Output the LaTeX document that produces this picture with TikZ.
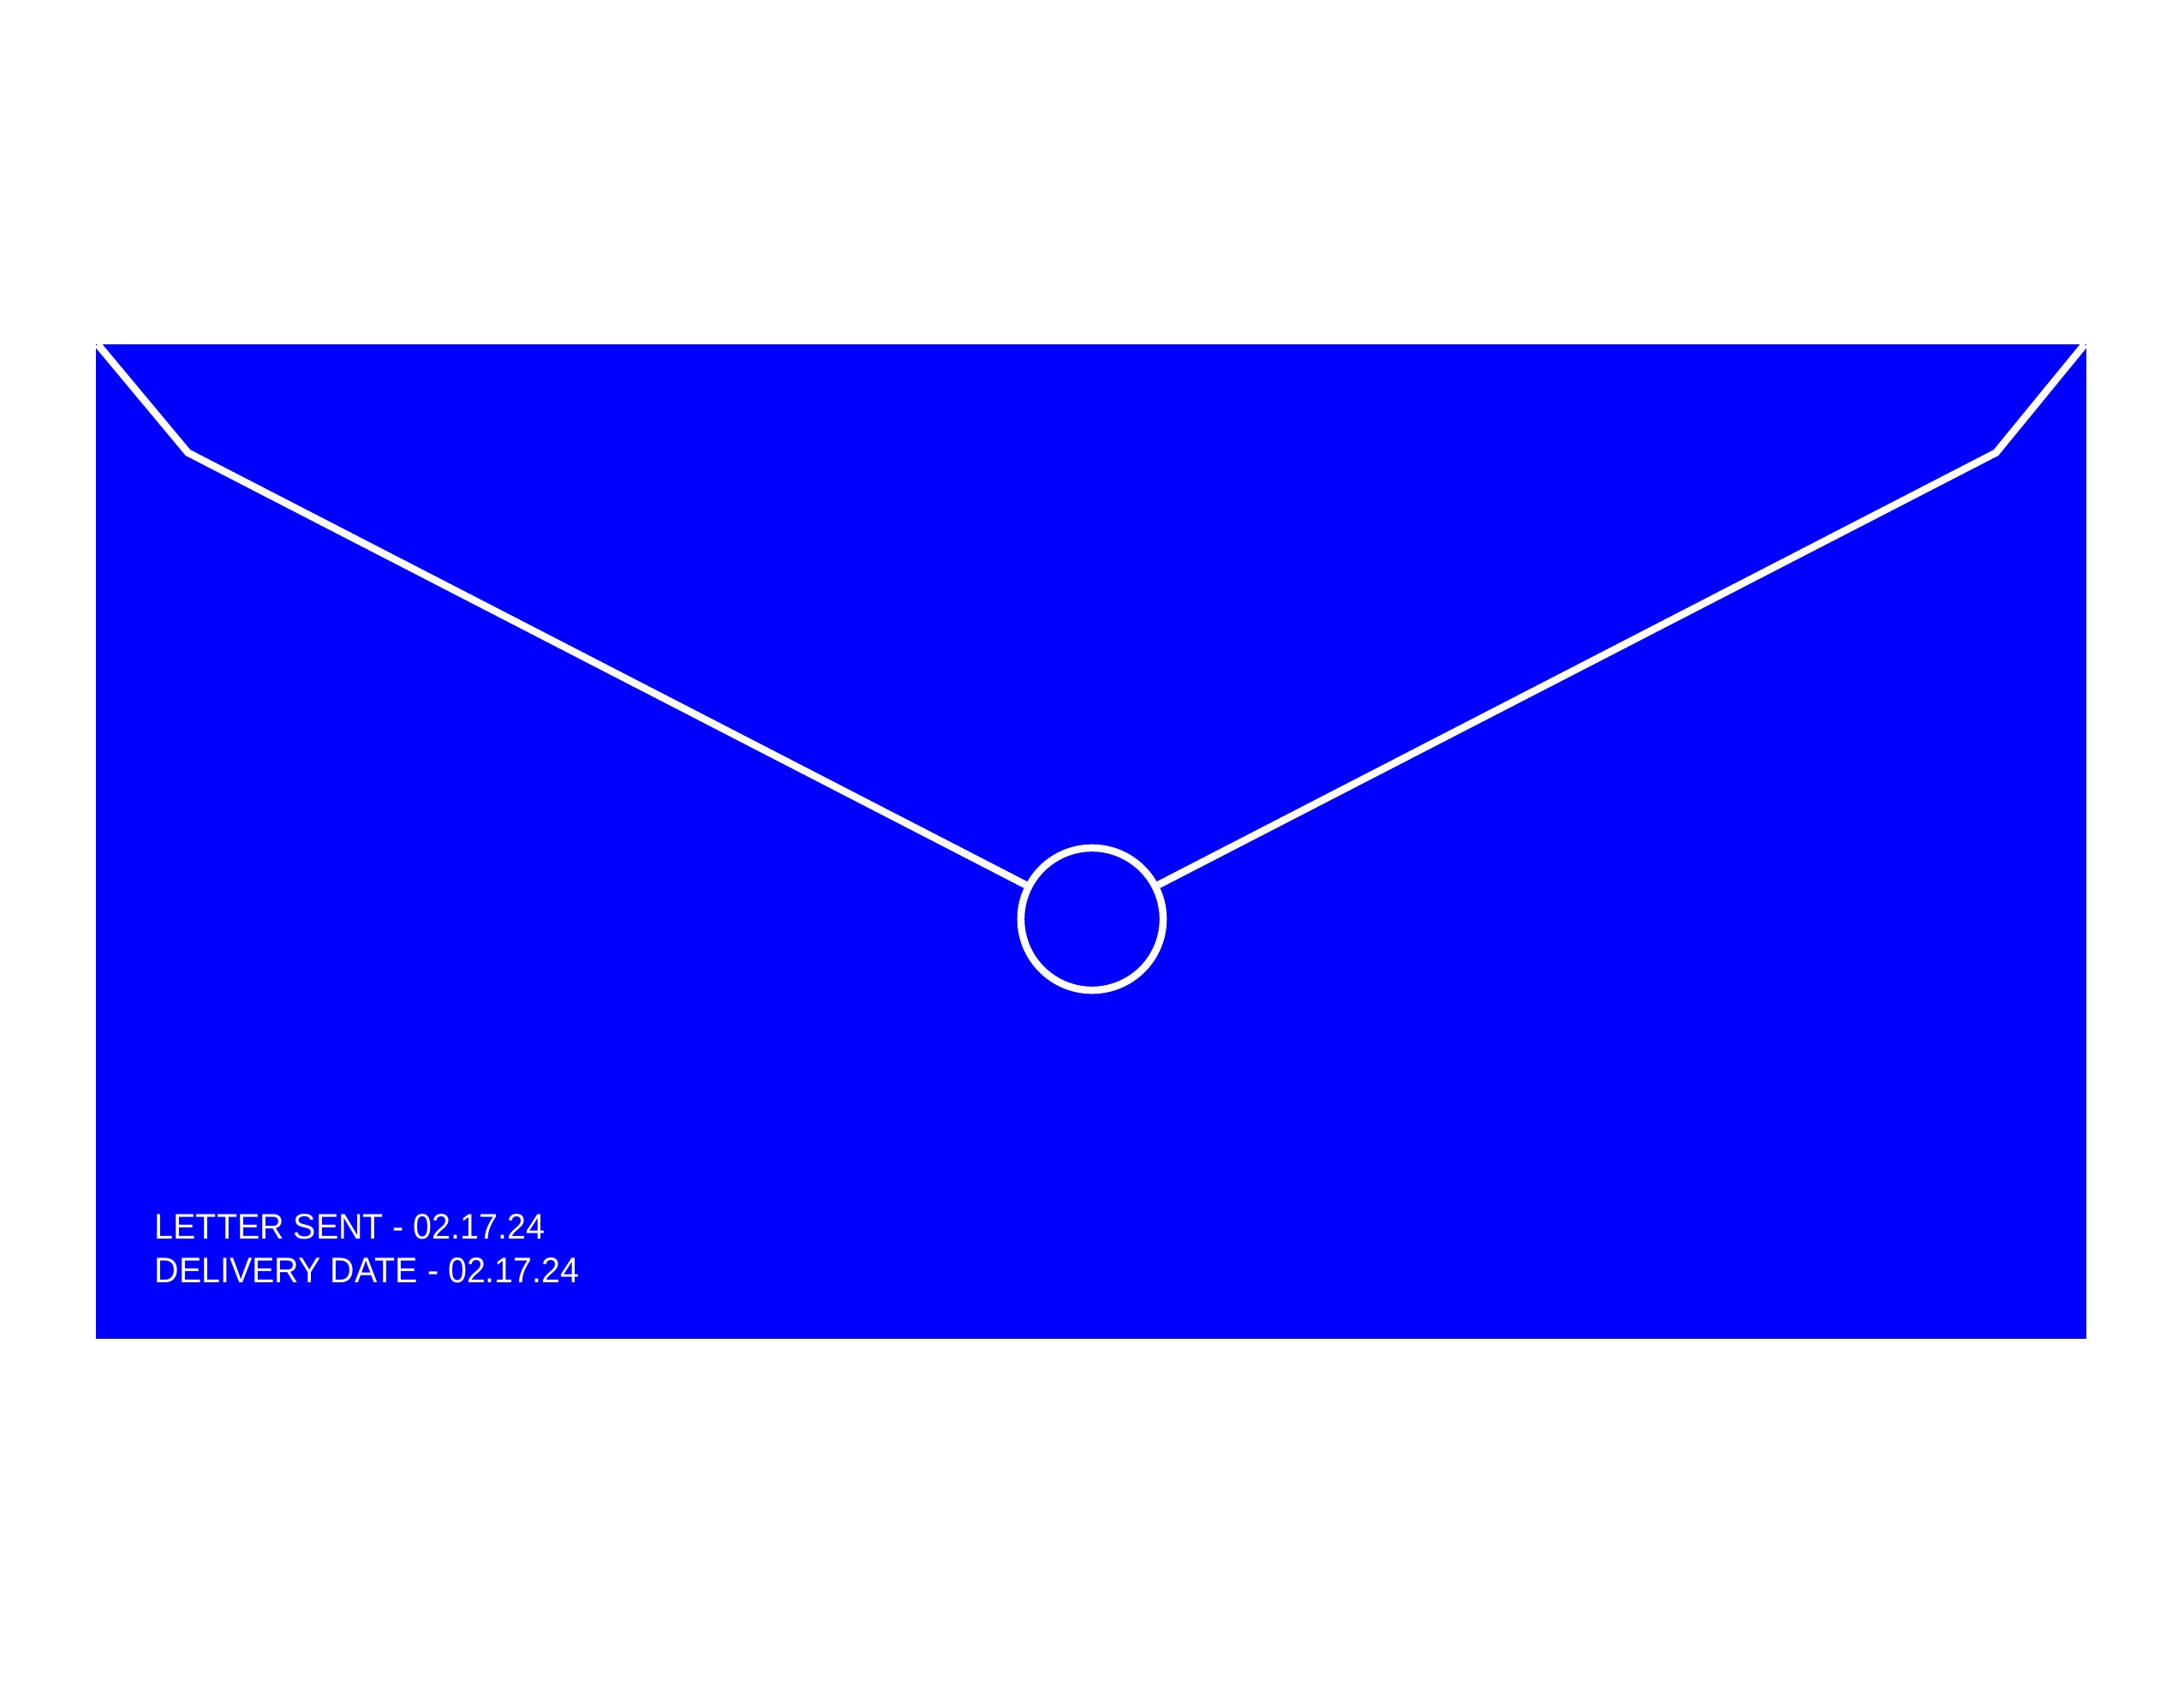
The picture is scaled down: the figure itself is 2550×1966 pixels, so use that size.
\documentclass[tikz,border=0pt]{standalone}
\usepackage{fontspec}
\setmainfont{Liberation Sans}
\newfontfamily\envfont[FakeStretch=0.95]{Liberation Sans}
\definecolor{envblue}{HTML}{0000FF}
\begin{document}
\begin{tikzpicture}[x=0.01cm,y=-0.01cm,
  flap/.style={draw=white,line width=2.42pt,line join=miter},
  lbl/.style={text=white,anchor=base west,inner sep=0pt,font=\envfont\fontsize{11.8}{11.8}\selectfont}]
\useasboundingbox[fill=white] (0,0) rectangle (2550,1966);
\fill[envblue] (112,402) rectangle (2436,1563);
\coordinate (tl) at (114,402);
\coordinate (tr) at (2434,402);
\coordinate (bl) at (219.5,528.5);
\coordinate (br) at (2330.5,528.5);
\node[circle,draw=white,line width=2.42pt,inner sep=0pt,minimum size=1.66cm] (seal) at (1275,1073) {};
\begin{scope}
\clip (112,402) rectangle (2436,1563);
\draw[flap] (tl) -- (bl) -- (seal);
\draw[flap] (tr) -- (br) -- (seal);
\end{scope}
\node[lbl] (sent) at (180,1446) {LETTER SENT - 02.17.24};
\node[lbl] (deliv) at (180,1497) {DELIVERY DATE - 02.17.24};
\end{tikzpicture}
\end{document}
